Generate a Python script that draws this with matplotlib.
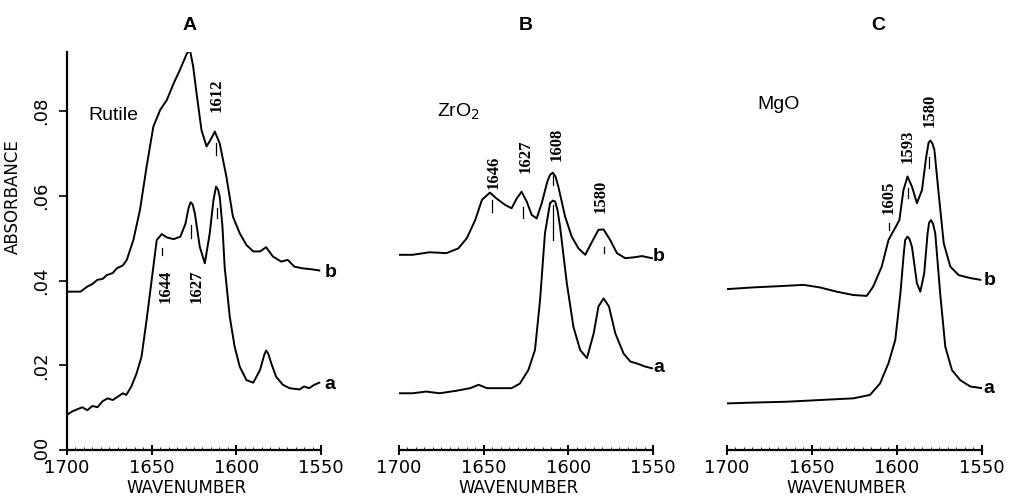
import numpy as np
import matplotlib
matplotlib.use("Agg")
import matplotlib.pyplot as plt
import matplotlib.ticker as ticker

# ---- data (wavenumber, absorbance) ----
wnA_a = [1700, 1697, 1694, 1691, 1688, 1685, 1682, 1679, 1676, 1673, 1670, 1667, 1665,
         1662, 1659, 1656, 1653, 1651, 1649, 1647, 1644, 1641, 1637, 1633, 1630, 1628.2,
         1627, 1625.8, 1624.5, 1621.6, 1618.6, 1615.7, 1613.5, 1612, 1610.8, 1609.8, 1608.2,
         1606.9, 1603.9, 1601, 1598, 1594, 1590, 1586, 1583.5, 1582.4, 1581.2, 1579.4, 1576.5,
         1572.5, 1568.6, 1562.7, 1560, 1557, 1554, 1551]
absA_a = [0.0083, 0.0091, 0.0096, 0.0101, 0.0094, 0.0104, 0.0101, 0.0115, 0.0122, 0.0118,
          0.0126, 0.0134, 0.0130, 0.0150, 0.0180, 0.0220, 0.0307, 0.0370, 0.0433, 0.0496,
          0.0510, 0.0502, 0.0498, 0.0504, 0.0535, 0.0572, 0.0585, 0.0580, 0.0559, 0.0480,
          0.0441, 0.0512, 0.0590, 0.0622, 0.0615, 0.0598, 0.0528, 0.0433, 0.0315, 0.0244,
          0.0197, 0.0165, 0.0159, 0.0189, 0.0225, 0.0235, 0.0228, 0.0205, 0.0173, 0.0154,
          0.0146, 0.0143, 0.0150, 0.0146, 0.0154, 0.0159]

wnA_b = [1700, 1692, 1688, 1685, 1682, 1679, 1676.5, 1673, 1670.6, 1667, 1664.7, 1660.8,
         1656.9, 1653, 1649, 1645, 1641, 1637, 1633.3, 1630.4, 1629.4, 1628, 1627.1, 1625.5,
         1623.5, 1620.6, 1617.6, 1615.3, 1612.7, 1609.8, 1605.9, 1602, 1598, 1594, 1590,
         1586, 1582.4, 1578.4, 1573.5, 1569.6, 1565.7, 1560.8, 1555.9, 1551]
absA_b = [0.0374, 0.0374, 0.0386, 0.0392, 0.0402, 0.0404, 0.0413, 0.0418, 0.0429, 0.0436,
          0.0449, 0.0496, 0.0567, 0.0669, 0.0764, 0.0803, 0.0827, 0.0866, 0.0898, 0.0925,
          0.0935, 0.0943, 0.0939, 0.0906, 0.0843, 0.0756, 0.0717, 0.0732, 0.0752, 0.0724,
          0.0646, 0.0551, 0.0512, 0.0484, 0.0469, 0.0469, 0.0479, 0.0457, 0.0445, 0.0449,
          0.0433, 0.0429, 0.0427, 0.0424]

wnB_a = [1700, 1692, 1684, 1676, 1666, 1658, 1653, 1648, 1640, 1633.5, 1628.6, 1623.6,
         1619.7, 1616.7, 1613.8, 1610.8, 1609.2, 1607.8, 1606.4, 1604.9, 1600.9, 1597, 1593,
         1589, 1585, 1582.2, 1579.2, 1576, 1572.3, 1567.4, 1563.4, 1558.5, 1554.6, 1550.6]
absB_a = [0.0134, 0.0134, 0.0138, 0.0134, 0.0140, 0.0146, 0.0154, 0.0146, 0.0146, 0.0146,
          0.0157, 0.0189, 0.0236, 0.0354, 0.0512, 0.0583, 0.0589, 0.0587, 0.0567, 0.0528,
          0.0394, 0.0291, 0.0236, 0.0217, 0.0276, 0.0339, 0.0358, 0.0339, 0.0276, 0.0228,
          0.0209, 0.0203, 0.0197, 0.0193]

wnB_b = [1700, 1692, 1682, 1672, 1665, 1660, 1655, 1651, 1646.3, 1642.4, 1637.4, 1633.5,
         1630.5, 1627.6, 1624.6, 1621.6, 1618.7, 1615.7, 1612.4, 1610.8, 1609.2, 1607.6,
         1605.9, 1601.9, 1598, 1594, 1590, 1586, 1582.2, 1579.2, 1575.3, 1571.3, 1566.4,
         1561.4, 1556.5, 1550.6]
absB_b = [0.0461, 0.0461, 0.0467, 0.0465, 0.0476, 0.0500, 0.0543, 0.0591, 0.0608, 0.0594,
          0.0579, 0.0571, 0.0594, 0.0610, 0.0587, 0.0555, 0.0547, 0.0583, 0.0634, 0.0650,
          0.0655, 0.0646, 0.0622, 0.0551, 0.0504, 0.0476, 0.0461, 0.0492, 0.0520, 0.0521,
          0.0496, 0.0465, 0.0453, 0.0455, 0.0458, 0.0453]

wnC_a = [1700, 1684.7, 1665, 1645.4, 1625.7, 1615.9, 1610, 1605, 1601, 1598, 1596, 1595.2,
         1593.8, 1592.6, 1591.2, 1588.3, 1586.3, 1584, 1582, 1581.1, 1580, 1578.8, 1577.5,
         1574.6, 1571.6, 1567.7, 1562.8, 1556.9, 1550]
absC_a = [0.0110, 0.0112, 0.0114, 0.0118, 0.0122, 0.0130, 0.0157, 0.0205, 0.0260, 0.0370,
          0.0465, 0.0496, 0.0504, 0.0498, 0.0480, 0.0394, 0.0374, 0.0417, 0.0512, 0.0537,
          0.0543, 0.0534, 0.0512, 0.0370, 0.0244, 0.0189, 0.0165, 0.0150, 0.0146]

wnC_b = [1700, 1684.7, 1669, 1655, 1645.4, 1635.5, 1625.7, 1617.8, 1614, 1609, 1605,
         1601.7, 1598.6, 1596.2, 1593.8, 1591.2, 1588.3, 1585.3, 1582.8, 1581.4, 1580.4,
         1579.2, 1578, 1575.5, 1572.5, 1568.6, 1563.7, 1556.8, 1551]
absC_b = [0.0380, 0.0384, 0.0387, 0.0390, 0.0384, 0.0374, 0.0366, 0.0364, 0.0386, 0.0433,
          0.0496, 0.0520, 0.0543, 0.0614, 0.0646, 0.0622, 0.0583, 0.0614, 0.0693, 0.0726,
          0.0731, 0.0724, 0.0709, 0.0606, 0.0488, 0.0433, 0.0413, 0.0406, 0.0402]

# peak marks: wavenumber, bottom and top of the little bar
marksA = [(1643.7, 0.0461, 0.0476), (1626.9, 0.0500, 0.0531), (1611.4, 0.0547, 0.0571),
          (1612.0, 0.0697, 0.0724)]
marksB = [(1645.3, 0.0563, 0.0591), (1626.6, 0.0547, 0.0575), (1608.8, 0.0626, 0.0650),
          (1608.8, 0.0496, 0.0579), (1579.2, 0.0465, 0.0480)]
marksC = [(1604.5, 0.0520, 0.0535), (1593.5, 0.0594, 0.0618), (1581.0, 0.0665, 0.0693)]

# peak labels: text, wavenumber, absorbance (centre)
labelsA = [("1644", 1642.0, 0.0386), ("1627", 1623.5, 0.0386), ("1612", 1611.5, 0.0837)]
labelsB = [("1646", 1644.0, 0.0656), ("1627", 1625.0, 0.0694), ("1608", 1607.2, 0.0723),
           ("1580", 1580.8, 0.0600)]
labelsC = [("1605", 1605.0, 0.0597), ("1593", 1593.7, 0.0717), ("1580", 1581.0, 0.0802)]

W, H = 1013, 496
fig = plt.figure(figsize=(W / 100, H / 100), dpi=100)

serif = "Liberation Serif"
sans = "Liberation Sans"


def make_axes(left_px, width_px):
    ax = fig.add_axes([left_px / W, 1 - 450 / H, width_px / W, 398 / H])
    ax.set_xlim(1700, 1550)
    ax.set_ylim(0, 0.094)
    for s in ["top", "right"]:
        ax.spines[s].set_visible(False)
    ax.spines["bottom"].set_linewidth(1.6)
    ax.spines["left"].set_linewidth(1.6)
    ax.set_xticks([1700, 1650, 1600, 1550])
    ax.xaxis.set_minor_locator(ticker.MultipleLocator(5))
    ax.tick_params(axis="x", which="major", direction="inout", length=7, width=1.4,
                   labelsize=13, pad=3)
    ax.tick_params(axis="x", which="minor", direction="in", length=2, width=0.6)
    ax.set_xlabel("WAVENUMBER", fontsize=12)
    ax.xaxis.set_label_coords(0.47, -0.073)
    return ax


def draw(ax, wa, ya, wb, yb, marks, labels):
    ax.plot(wa, ya, color="black", lw=1.4)
    ax.plot(wb, yb, color="black", lw=1.4)
    for w, y0, y1 in marks:
        ax.plot([w, w], [y0, y1], color="black", lw=0.9)
    for txt, w, y in labels:
        ax.text(w, y, txt, rotation=90, ha="center", va="center", fontsize=12,
                fontweight="bold", family=serif)


axA = make_axes(67, 254)
axB = make_axes(399, 254)
axC = make_axes(727, 255)

draw(axA, wnA_a, absA_a, wnA_b, absA_b, marksA, labelsA)
draw(axB, wnB_a, absB_a, wnB_b, absB_b, marksB, labelsB)
draw(axC, wnC_a, absC_a, wnC_b, absC_b, marksC, labelsC)

# y axis only on panel A
axA.set_yticks([0, 0.02, 0.04, 0.06, 0.08])
axA.set_yticklabels([".00", ".02", ".04", ".06", ".08"], rotation=90, va="center")
axA.tick_params(axis="y", direction="out", length=6, width=1.2, labelsize=13, pad=6)
axA.set_ylabel("ABSORBANCE", fontsize=12)
axA.yaxis.set_label_coords(-0.177, 0.636)
for ax in [axB, axC]:
    ax.spines["left"].set_visible(False)
    ax.set_yticks([])

# panel titles and sample names
for ax, xf, t in [(axA, 0.484, "A"), (axB, 0.5, "B"), (axC, 0.592, "C")]:
    ax.text(xf, 1.066, t, transform=ax.transAxes, ha="center", va="center",
            fontsize=14, fontweight="bold", family=sans)

axA.text(0.083, 0.0791, "Rutile", transform=axA.get_yaxis_transform(), ha="left",
         va="center", fontsize=14, family=sans)
axB.text(0.15, 0.0798, "ZrO$_2$", transform=axB.get_yaxis_transform(), ha="left",
         va="center", fontsize=14, family=sans)
axC.text(0.12, 0.0815, "MgO", transform=axC.get_yaxis_transform(), ha="left",
         va="center", fontsize=14, family=sans)

# curve letters
for ax, w, yb, ya in [(axA, 1548, 0.0420, 0.0154), (axB, 1550, 0.0456, 0.0194),
                      (axC, 1549, 0.0401, 0.0146)]:
    ax.text(w, yb, "b", ha="left", va="center", fontsize=14, fontweight="bold",
            family=sans, clip_on=False)
    ax.text(w, ya, "a", ha="left", va="center", fontsize=14, fontweight="bold",
            family=sans, clip_on=False)

fig.savefig("out.png", dpi=100)
